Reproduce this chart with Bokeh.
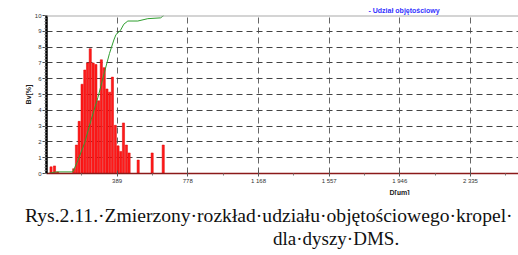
from bokeh.plotting import figure
from bokeh.layouts import column
from bokeh.models import Range1d, FixedTicker, SingleIntervalTicker, Span, Title, Div
from bokeh.embed import file_html
from bokeh.resources import INLINE

# ---- data ----
bar_d = [25, 44, 61,
         150, 165, 180, 196, 211, 226, 241, 257, 272, 287, 302, 318, 333, 348,
         363, 379, 394, 409, 424, 440, 455,
         505, 582, 643]
bar_bv = [0.42, 0.48, 0.1,
          0.3, 1.8, 3.3, 5.65, 6.55, 7.0, 7.9, 7.0, 6.9, 4.6, 7.2, 6.7, 5.35, 5.15,
          6.1, 3.05, 1.75, 1.4, 3.2, 1.8, 1.3,
          0.85, 1.3, 1.8]

cum_d = [7, 53, 145, 172, 209, 246, 283, 319, 347, 371, 383, 407, 426, 448, 503, 558, 628, 646]
cum_v = [0.0, 0.1, 0.1, 0.8, 1.9, 3.4, 4.8, 6.4, 7.6, 8.45, 8.8, 9.05, 9.45, 9.65, 9.65, 9.8, 9.85, 10.0]

x_ticks = [389, 778, 1168, 1557, 1946, 2335]
x_tick_labels = ["389", "778", "1 168", "1 557", "1 946", "2 335"]
y_ticks = list(range(0, 11))

legend_text = "- Udział objętościowy"
x_label = "D[µm]"
y_label = "Bv[%]"
caption_lines = ["Rys.2.11.·Zmierzony·rozkład·udziału·objętościowego·kropel·",
                 "dla·dyszy·DMS."]

# ---- geometry ----
W = 518
H_MAIN, H_CAP = 195, 60
LEFT, TOP = 46, 15
BOTTOM = H_MAIN - TOP - 161
X0, X1 = 0, 2600
Y0, Y1 = 0, 10

p = figure(width=W, height=H_MAIN, x_range=Range1d(X0, X1), y_range=Range1d(Y0, Y1),
           output_backend="svg", toolbar_location=None,
           min_border_left=LEFT, min_border_right=0, min_border_top=TOP,
           min_border_bottom=BOTTOM)
p.outline_line_color = None
p.background_fill_color = "white"
p.border_fill_color = "white"

minor_x = [x_ticks[0] / 2] + [(a + b) / 2 for a, b in zip(x_ticks[:-1], x_ticks[1:])] + \
          [x_ticks[-1] + (x_ticks[1] - x_ticks[0]) / 2]
xt = FixedTicker(ticks=x_ticks, minor_ticks=minor_x)
p.xaxis.ticker = xt
p.xaxis.major_label_overrides = {t: l for t, l in zip(x_ticks, x_tick_labels)}
p.xaxis.axis_line_color = "#8b1a1a"
p.xaxis.axis_line_width = 1.5
p.xaxis.major_tick_in = 3
p.xaxis.major_tick_out = 3
p.xaxis.minor_tick_in = 0
p.xaxis.minor_tick_out = 2
p.xaxis.major_tick_line_color = "#555555"
p.xaxis.minor_tick_line_color = "#777777"
p.xaxis.major_label_text_font = "Liberation Sans"
p.xaxis.major_label_text_font_size = "6px"
p.xaxis.major_label_text_color = "#333333"
p.xaxis.major_label_standoff = 1

yt = SingleIntervalTicker(interval=1, num_minor_ticks=5)
p.yaxis.ticker = yt
p.yaxis.axis_line_color = "black"
p.yaxis.axis_line_width = 2.5
p.yaxis.major_tick_in = 0
p.yaxis.major_tick_out = 4
p.yaxis.minor_tick_in = 0
p.yaxis.minor_tick_out = 2
p.yaxis.major_tick_line_color = "#444444"
p.yaxis.minor_tick_line_color = "#777777"
p.yaxis.major_label_text_font = "Liberation Sans"
p.yaxis.major_label_text_font_size = "6px"
p.yaxis.major_label_text_color = "#333333"
p.yaxis.major_label_standoff = 1
p.yaxis.axis_label = y_label
p.yaxis.axis_label_text_font = "Liberation Sans"
p.yaxis.axis_label_text_font_size = "7px"
p.yaxis.axis_label_text_font_style = "bold"
p.yaxis.axis_label_text_color = "#222222"
p.yaxis.axis_label_standoff = 0

p.xgrid.ticker = xt
p.xgrid.grid_line_color = "#666666"
p.xgrid.grid_line_dash = "6 4"
p.xgrid.grid_line_width = 1
p.ygrid.ticker = FixedTicker(ticks=y_ticks[1:-1])
p.ygrid.grid_line_color = "#444444"
p.ygrid.grid_line_dash = "6 4"
p.ygrid.grid_line_width = 1

p.vbar(x=bar_d, top=bar_bv, width=12, bottom=0, fill_color="#ff1a1a",
       line_color="#e00000", line_width=0.5)
p.line(cum_d, cum_v, line_color="#2f9e2f", line_width=1)

p.add_layout(Span(location=Y1, dimension="width", line_color="#aaaaaa", line_width=2))

# x-axis label as a title below, shifted to the right
p.add_layout(Title(text=x_label, align="left", offset=343, standoff=0,
                   text_font="Liberation Sans", text_font_size="7px",
                   text_font_style="bold", text_color="#222222"), "below")
# legend text above the frame
p.add_layout(Title(text=legend_text, align="left", offset=322, standoff=3,
                   text_font="Liberation Sans", text_font_size="7px",
                   text_font_style="bold", text_color="#3333ff"), "above")

# caption as HTML text (not a plot, so it is not aligned to the chart frame)
span_style = ("position:absolute;white-space:nowrap;line-height:1;"
              "font-family:'Liberation Serif',serif;color:#111111;")
cap_html = (
    '<div style="position:relative;width:%dpx;height:%dpx;overflow:hidden;margin:0;padding:0;">'
    '<span style="%sleft:25px;top:11px;font-size:19.6px;">%s</span>'
    '<span style="%sleft:273px;top:34px;font-size:19px;">%s</span>'
    '</div>'
) % (W, H_CAP, span_style, caption_lines[0], span_style, caption_lines[1])
cap = Div(text=cap_html, width=W, height=H_CAP, margin=(0, 0, 0, 0))

layout = column(p, cap, spacing=0)
open("out.html", "w").write(file_html(layout, INLINE))
